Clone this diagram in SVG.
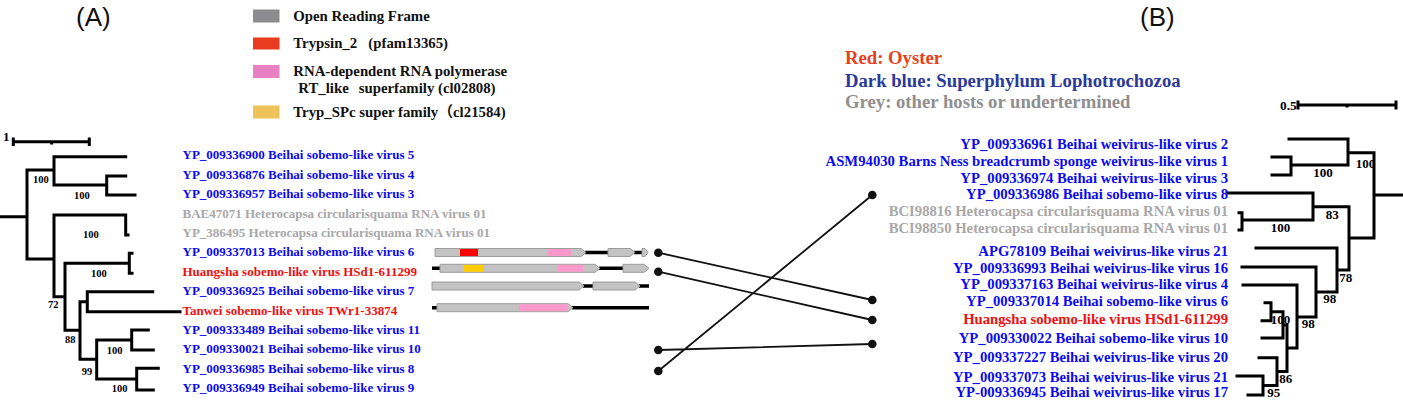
<svg xmlns="http://www.w3.org/2000/svg" width="1403" height="400" viewBox="0 0 1403 400">
<style>
.tree{fill:none;stroke:#000;stroke-width:3;stroke-linecap:square}
.sb{fill:none;stroke:#000;stroke-width:3}
.lab{font-family:"Liberation Serif","Times New Roman",serif;font-weight:bold}
.l13{font-size:13px}
.l15{font-size:14.7px}
.bs{font-family:"Liberation Serif","Times New Roman",serif;font-weight:bold;font-size:10.5px;fill:#000}
.bsr{font-family:"Liberation Serif","Times New Roman",serif;font-weight:bold;font-size:13px;fill:#000}
.blue{fill:#0b0bf0}
.red{fill:#f01010}
.grey{fill:#a8a8a8}
.leg{font-family:"Liberation Serif","Noto Sans CJK SC",serif;font-weight:bold;font-size:14.8px;fill:#111}
.hl{font-family:"Liberation Serif",serif;font-weight:bold;font-size:18.7px}
.panel{font-family:"Liberation Sans",Arial,sans-serif;font-size:26px;fill:#111}
.orf{fill:#c3c3c3;stroke:#9c9c9c;stroke-width:1}
.nc{stroke:#000;stroke-width:3.5;fill:none}
.con{stroke:#111;stroke-width:1.8;fill:none}
.dot{fill:#111}
</style>

<text class="panel" x="76" y="26">(A)</text>
<text class="panel" x="1140" y="26">(B)</text>

<g id="legend-a">
<rect x="253" y="9.5" width="26.5" height="13" fill="#8c8c8e"/>
<rect x="253" y="37.5" width="26.5" height="12" fill="#e83b1f"/>
<rect x="253" y="65" width="26.5" height="13" fill="#e880c2"/>
<rect x="253" y="105.5" width="26.5" height="13" fill="#eec35a"/>
<text class="leg" x="293.3" y="20.7">Open Reading Frame</text>
<text class="leg" y="48.3"><tspan x="293.3">Trypsin_2</tspan><tspan x="368.3">(pfam13365)</tspan></text>
<text class="leg" x="293.3" y="76">RNA-dependent RNA polymerase</text>
<text class="leg" y="93.3"><tspan x="298.3">RT_like</tspan><tspan x="358.7">superfamily (cl02808)</tspan></text>
<text class="leg" x="293.3" y="116.7">Tryp_SPc super family（cl21584)</text>
</g>

<g id="legend-b">
<text class="hl" x="845" y="64" fill="#e8401c">Red: Oyster</text>
<text class="hl" x="845" y="86.7" fill="#2b3a99">Dark blue: Superphylum Lophotrochozoa</text>
<text class="hl" x="845" y="108.3" fill="#8f8f8f">Grey: other hosts or undertermined</text>
</g>

<g id="scale-a">
<path class="sb" d="M13.3,141.7 H89.3 M13.3,137.5 V146 M89.3,137.5 V146 M51.7,141.7 V144.5"/>
<text class="lab l13" x="3" y="141">1</text>
</g>

<g id="tree-a">
<path class="tree" d="M0,216.7 H27 M27,170 V259 M27,170 H54 M54,156.7 V185 M54,156.7 H125.7 M54,185 H106.7 M106.7,176 V195 M106.7,176 H125.7 M106.7,195 H135
M27,259 H54 M54,215 V296.7 M54,215 H125.7 M125.7,215 V235 M125.7,235 H128
M54,296.7 H65 M65,263.3 V330.3 M65,263.3 H129.3 M129.3,253.3 V273.3 M129.3,253.3 H132 M129.3,273.3 H132
M65,330.3 H80 M80,301.7 V359.3 M80,301.7 H87.3 M87.3,291.7 V311.7 M87.3,291.7 H152.7 M87.3,311.7 H180
M80,359.3 H96.7 M96.7,340 V379 M96.7,340 H131.7 M131.7,330 V350 M131.7,330 H148.3 M131.7,350 H153.3
M96.7,379 H136.7 M136.7,368.3 V390 M136.7,368.3 H158.3 M136.7,390 H153.3"/>
<text class="bs" x="33" y="183.3">100</text>
<text class="bs" x="74" y="198.7">100</text>
<text class="bs" x="83" y="238.3">100</text>
<text class="bs" x="91" y="276.7">100</text>
<text class="bs" x="48" y="308.3">72</text>
<text class="bs" x="65" y="342.7">88</text>
<text class="bs" x="106.7" y="354">100</text>
<text class="bs" x="81.7" y="375">99</text>
<text class="bs" x="111.7" y="392">100</text>
</g>

<g id="labels-a" class="lab l13">
<text class="blue" x="182.5" y="159.3">YP_009336900 Beihai sobemo-like virus 5</text>
<text class="blue" x="182.5" y="178.7">YP_009336876 Beihai sobemo-like virus 4</text>
<text class="blue" x="182.5" y="198.1">YP_009336957 Beihai sobemo-like virus 3</text>
<text class="grey" x="182.5" y="217.5">BAE47071 Heterocapsa circularisquama RNA virus 01</text>
<text class="grey" x="182.5" y="236.9">YP_386495 Heterocapsa circularisquama RNA virus 01</text>
<text class="blue" x="182.5" y="256.3">YP_009337013 Beihai sobemo-like virus 6</text>
<text class="red" x="182.5" y="275.7">Huangsha sobemo-like virus HSd1-611299</text>
<text class="blue" x="182.5" y="295.1">YP_009336925 Beihai sobemo-like virus 7</text>
<text class="red" x="182.5" y="314.5">Tanwei sobemo-like virus TWr1-33874</text>
<text class="blue" x="182.5" y="333.9">YP_009333489 Beihai sobemo-like virus 11</text>
<text class="blue" x="182.5" y="353.3">YP_009330021 Beihai sobemo-like virus 10</text>
<text class="blue" x="182.5" y="372.7">YP_009336985 Beihai sobemo-like virus 8</text>
<text class="blue" x="182.5" y="392.1">YP_009336949 Beihai sobemo-like virus 9</text>
</g>

<g id="orf-1">
<path class="nc" d="M585,252.5 H609 M634,252.5 H643"/>
<polygon class="orf" points="435,248.5 581,248.5 586,252.5 581,256.5 435,256.5"/>
<rect x="460" y="249" width="18" height="7" fill="#ff0000"/>
<rect x="547.7" y="249" width="23.3" height="7" fill="#ff99cc"/>
<polygon class="orf" points="608,248.5 630,248.5 635,252.5 630,256.5 608,256.5"/>
<polygon class="orf" points="642,248.5 645,248.5 648,252.5 645,256.5 642,256.5"/>
</g>
<g id="orf-2">
<path class="nc" d="M432,268.3 H441 M599,268.3 H624"/>
<polygon class="orf" points="440,264.3 595,264.3 600,268.3 595,272.3 440,272.3"/>
<rect x="463" y="264.8" width="20" height="7" fill="#ffcc00"/>
<rect x="558" y="264.8" width="25" height="7" fill="#ff99cc"/>
<polygon class="orf" points="623,264.3 644,264.3 649,268.3 644,272.3 623,272.3"/>
</g>
<g id="orf-3">
<path class="nc" d="M583,286 H594 M639,286 H649"/>
<polygon class="orf" points="432,282 579,282 584,286 579,290 432,290"/>
<polygon class="orf" points="593,282 635,282 640,286 635,290 593,290"/>
</g>
<g id="orf-4">
<path class="nc" d="M432,307.7 H438 M572,307.7 H649"/>
<polygon class="orf" points="437,303.7 568,303.7 573,307.7 568,311.7 437,311.7"/>
<rect x="519" y="304.2" width="49" height="7" fill="#ff99cc"/>
</g>

<g id="connectors">
<path class="con" d="M658.3,252.7 L872.3,300 M658.3,271.7 L872.3,320 M658.3,350 L872.3,344 M658.3,371 L872.3,195"/>
<circle class="dot" cx="658.3" cy="252.7" r="4.3"/>
<circle class="dot" cx="658.3" cy="271.7" r="4.3"/>
<circle class="dot" cx="658.3" cy="350" r="4.3"/>
<circle class="dot" cx="658.3" cy="371" r="4.3"/>
<circle class="dot" cx="872.3" cy="195" r="4.3"/>
<circle class="dot" cx="872.3" cy="300" r="4.3"/>
<circle class="dot" cx="872.3" cy="320" r="4.3"/>
<circle class="dot" cx="872.3" cy="344" r="4.3"/>
</g>

<g id="scale-b">
<path class="sb" d="M1298,105 H1396 M1298,100.5 V109.5 M1396,100.5 V109.5 M1347,105 V107.5"/>
<text class="lab" style="font-size:13.4px" x="1280" y="110">0.5</text>
</g>

<g id="tree-b">
<path class="tree" d="M1289,139 H1348 M1348,139 V165 M1272,157 H1291 M1272,175 H1291 M1291,157 V175 M1291,165 H1348 M1348,152.7 H1374 M1374,152.7 V238 M1374,195 H1402
M1349,238 H1374 M1349,206.7 V270 M1313,206.7 H1349 M1313,193 V220 M1228,193 H1313 M1242,220 H1313 M1242,212.7 V230 M1239,212.7 H1242 M1239,230 H1242
M1337,270 H1349 M1337,248 V292 M1256,248 H1337 M1316,292 H1337 M1316,267 V317 M1242,267 H1316 M1297,317 H1316 M1297,285 V348 M1243,285 H1297
M1287,348 H1297 M1287,325 V371.5 M1283,325 H1287 M1283,311.7 V338 M1262,338 H1283 M1271,311.7 H1283 M1271,302.7 V320.7 M1265,302.7 H1271 M1262,320.7 H1271
M1277,371.5 H1287 M1277,357.7 V385.5 M1259,357.7 H1277 M1263,385.5 H1277 M1263,376 V395 M1237,376 H1263 M1248,395 H1263"/>
<text class="bsr" x="1355.7" y="168">100</text>
<text class="bsr" x="1313.3" y="177.3">100</text>
<text class="bsr" x="1325.7" y="219.3">83</text>
<text class="bsr" x="1270.7" y="231.7">100</text>
<text class="bsr" x="1339.3" y="281.7">78</text>
<text class="bsr" x="1323.3" y="303.3">98</text>
<text class="bsr" x="1301.7" y="328.3">98</text>
<text class="bsr" x="1270.7" y="324">100</text>
<text class="bsr" x="1279.3" y="383.3">86</text>
<text class="bsr" x="1267.3" y="396.7">95</text>
</g>

<g id="labels-b" class="lab l15" text-anchor="end">
<text class="blue" x="1228" y="149">YP_009336961 Beihai weivirus-like virus 2</text>
<text class="blue" x="1228" y="166">ASM94030 Barns Ness breadcrumb sponge weivirus-like virus 1</text>
<text class="blue" x="1228" y="182.7">YP_009336974 Beihai weivirus-like virus 3</text>
<text class="blue" x="1228" y="199.3">YP_009336986 Beihai sobemo-like virus 8</text>
<text class="grey" x="1228" y="216">BCI98816 Heterocapsa circularisquama RNA virus 01</text>
<text class="grey" x="1228" y="232.7">BCI98850 Heterocapsa circularisquama RNA virus 01</text>
<text class="blue" x="1228" y="256">APG78109 Beihai weivirus-like virus 21</text>
<text class="blue" x="1228" y="272.7">YP_009336993 Beihai weivirus-like virus 16</text>
<text class="blue" x="1228" y="289">YP_009337163 Beihai weivirus-like virus 4</text>
<text class="blue" x="1228" y="306">YP_009337014 Beihai sobemo-like virus 6</text>
<text class="red" x="1228" y="324">Huangsha sobemo-like virus HSd1-611299</text>
<text class="blue" x="1228" y="342.7">YP_009330022 Beihai sobemo-like virus 10</text>
<text class="blue" x="1228" y="361.7">YP_009337227 Beihai weivirus-like virus 20</text>
<text class="blue" x="1228" y="381.7">YP_009337073 Beihai weivirus-like virus 21</text>
<text class="blue" x="1228" y="396.7">YP-009336945 Beihai weivirus-like virus 17</text>
</g>
</svg>
